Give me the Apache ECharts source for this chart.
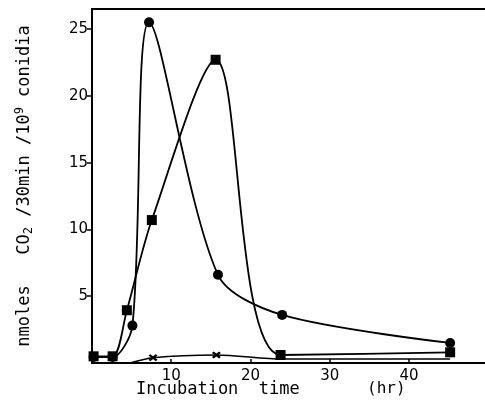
<!DOCTYPE html>
<html>
<head>
<meta charset="utf-8">
<script src="https://cdn.jsdelivr.net/npm/echarts@6/dist/echarts.min.js"></script>
<style>html,body{margin:0;padding:0;background:#fff}#c{width:485px;height:408px}</style>
</head>
<body>
<div id="c"></div>
<script>
// Data (x: hours, y: nmoles CO2 / 30 min / 1e9 conidia)
var circleX = [0.2, 2.6, 5.1, 7.2, 15.9, 24, 45.2];
var circleY = [0.45, 0.45, 2.8, 25.5, 6.6, 3.6, 1.5];
var squareX = [0.2, 2.6, 4.4, 7.55, 15.6, 23.8, 45.2];
var squareY = [0.5, 0.5, 3.95, 10.7, 22.7, 0.6, 0.8];
var crossX = [4.8, 7.7, 15.7, 24, 45.2];
var crossY = [0, 0.4, 0.6, 0.3, 0.3];
var crossMarked = [false, true, true, false, false];
var yTicks = [5, 10, 15, 20, 25];
var xTicks = [10, 20, 30, 40];

function pairs(xs, ys) { return xs.map(function (x, i) { return [x, ys[i]]; }); }

var crossPath = 'path://M2,0 L5,3 L8,0 L10,2 L7,5 L10,8 L8,10 L5,7 L2,10 L0,8 L3,5 L0,2 Z';
var crossData = crossX.map(function (x, i) {
  return crossMarked[i] ? { value: [x, crossY[i]] } : { value: [x, crossY[i]], symbol: 'none' };
});

var font = 'DejaVu Sans';
var mono = 'DejaVu Sans Mono';
var chart = echarts.init(document.getElementById('c'));
chart.setOption({
  animation: false,
  backgroundColor: '#fff',
  grid: { left: 92, right: 0, top: 9, bottom: 45 },
  xAxis: [{
    type: 'value', min: 0, max: 49.6, interval: 10,
    axisLine: { lineStyle: { color: '#000', width: 2 } },
    axisTick: { inside: true, length: 4, lineStyle: { color: '#000', width: 1.5 }, customValues: xTicks },
    axisLabel: { color: '#000', fontFamily: font, fontSize: 15, margin: 6, customValues: xTicks },
    splitLine: { show: false }
  }, {
    type: 'value', position: 'top', min: 0, max: 49.6,
    axisLine: { show: true, lineStyle: { color: '#000', width: 2.2 } },
    axisTick: { show: false }, axisLabel: { show: false }, splitLine: { show: false }
  }],
  yAxis: {
    type: 'value', min: 0, max: 26.5, interval: 5,
    axisLine: { lineStyle: { color: '#000', width: 2 } },
    axisTick: { inside: false, length: 5, lineStyle: { color: '#000', width: 1.5 }, customValues: yTicks },
    axisLabel: { color: '#000', fontFamily: font, fontSize: 15, margin: 4, customValues: yTicks },
    splitLine: { show: false },
    name: '{a|nmoles   CO}{s|2}{a| /30min /10}{p|9}{a| conidia}',
    nameLocation: 'middle', nameRotate: 90, nameGap: 57,
    nameTextStyle: {
      rich: {
        a: { fontFamily: mono, fontSize: 17, color: '#000' },
        s: { fontFamily: mono, fontSize: 12, color: '#000', verticalAlign: 'bottom', padding: [9, 0, 0, 0] },
        p: { fontFamily: mono, fontSize: 12, color: '#000', verticalAlign: 'top', padding: [0, 0, 9, 0] }
      }
    }
  },
  graphic: [{
    type: 'text', left: 136, top: 381,
    style: { text: 'Incubation  time', fontFamily: mono, fontSize: 17, fill: '#000' }
  }, {
    type: 'text', left: 367, top: 381,
    style: { text: '(hr)', fontFamily: mono, fontSize: 16, fill: '#000' }
  }],
  series: [{
    type: 'line', data: pairs(circleX, circleY), smooth: 0.3,
    symbol: 'circle', symbolSize: 10,
    lineStyle: { color: '#000', width: 1.8 }, itemStyle: { color: '#000' }
  }, {
    type: 'line', data: pairs(squareX, squareY), smooth: 0.3,
    symbol: 'rect', symbolSize: 10,
    lineStyle: { color: '#000', width: 1.8 }, itemStyle: { color: '#000' }
  }, {
    type: 'line', data: crossData, smooth: 0.3,
    symbol: crossPath, symbolSize: [9, 7],
    lineStyle: { color: '#000', width: 1.5 }, itemStyle: { color: '#000' }
  }]
});
</script>
</body>
</html>
